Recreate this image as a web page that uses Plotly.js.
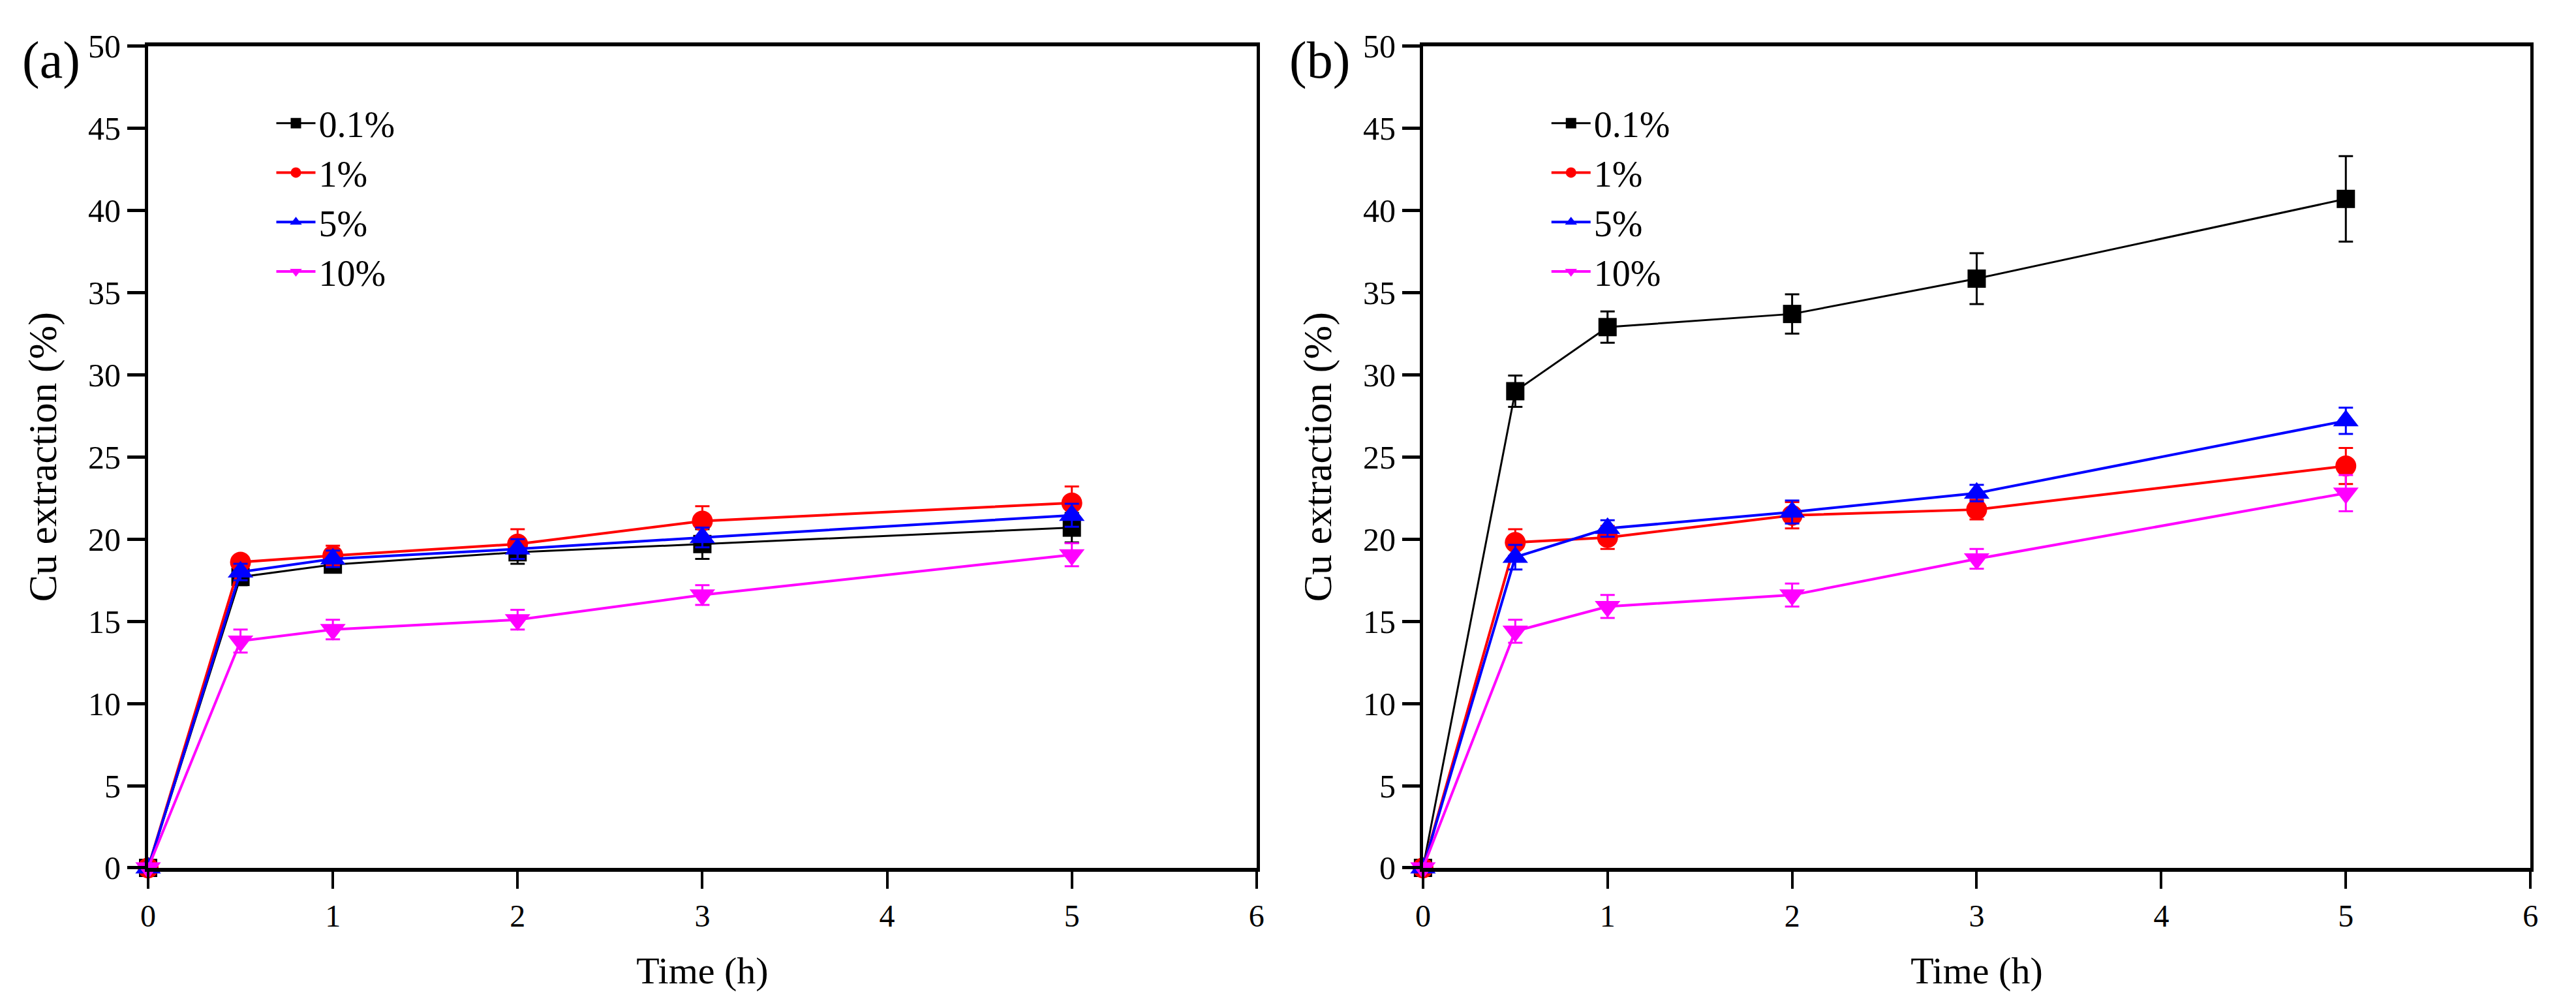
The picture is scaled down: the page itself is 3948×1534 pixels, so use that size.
<!DOCTYPE html>
<html>
<head>
<meta charset="utf-8">
<script src="https://cdn.plot.ly/plotly-3.0.1.min.js"></script>
<style>
  body { margin: 0; background: #fff; }
  #chart { width: 3948px; height: 1534px; }
</style>
</head>
<body>
<div id="chart"></div>
<script>
// time points (h)
var time = [0, 0.5, 1, 2, 3, 5];
var names = ["0.1%", "1%", "5%", "10%"];

// panel (a)
var a01 = [0, 17.7, 18.45, 19.2, 19.7, 20.7];
var a01Err = [0, 0.5, 0.4, 0.7, 0.9, 0.9];
var a1 = [0, 18.6, 19.0, 19.7, 21.1, 22.2];
var a1Err = [0, 0.3, 0.6, 0.9, 0.9, 1.0];
var a5 = [0, 18.0, 18.8, 19.4, 20.1, 21.45];
var a5Err = [0, 0.5, 0.5, 0.6, 0.6, 0.7];
var a10 = [0, 13.8, 14.5, 15.1, 16.6, 19.05];
var a10Err = [0, 0.7, 0.6, 0.6, 0.6, 0.7];

// panel (b)
var b01 = [0, 29.0, 32.9, 33.7, 35.85, 40.7];
var b01Err = [0, 0.95, 0.95, 1.2, 1.55, 2.6];
var b1 = [0, 19.8, 20.1, 21.45, 21.8, 24.45];
var b1Err = [0, 0.8, 0.7, 0.8, 0.6, 1.1];
var b5 = [0, 18.9, 20.65, 21.65, 22.8, 27.2];
var b5Err = [0, 0.75, 0.5, 0.7, 0.5, 0.8];
var b10 = [0, 14.4, 15.9, 16.6, 18.8, 22.8];
var b10Err = [0, 0.7, 0.7, 0.7, 0.6, 1.1];

var colors = ["#000000", "#ff0000", "#0000ff", "#ff00ff"];
var symbols = ["square", "circle", "triangle-up", "triangle-down"];
var sizes = [28, 32, 34, 34];
var widths = [3, 4, 4, 4];

function makeTrace(i, ys, errs, xa, ya, leg) {
  return {
    x: time, y: ys,
    name: names[i],
    type: 'scatter',
    mode: 'lines+markers',
    xaxis: xa, yaxis: ya,
    legend: leg,
    cliponaxis: false,
    line: { color: colors[i], width: widths[i] },
    marker: { color: colors[i], symbol: symbols[i], size: sizes[i] },
    error_y: { type: 'data', array: errs, visible: true, color: colors[i], thickness: 3, width: 11 }
  };
}

var data = [
  makeTrace(0, a01, a01Err, 'x', 'y', 'legend'),
  makeTrace(1, a1, a1Err, 'x', 'y', 'legend'),
  makeTrace(2, a5, a5Err, 'x', 'y', 'legend'),
  makeTrace(3, a10, a10Err, 'x', 'y', 'legend'),
  makeTrace(0, b01, b01Err, 'x2', 'y2', 'legend2'),
  makeTrace(1, b1, b1Err, 'x2', 'y2', 'legend2'),
  makeTrace(2, b5, b5Err, 'x2', 'y2', 'legend2'),
  makeTrace(3, b10, b10Err, 'x2', 'y2', 'legend2')
];

var font = "'Liberation Serif', 'Times New Roman', serif";

function xAxis(dom, anchor) {
  return {
    domain: dom, anchor: anchor,
    range: [0, 6], dtick: 1,
    showgrid: false, zeroline: false,
    showline: true, mirror: true, linecolor: '#000', linewidth: 6,
    ticks: 'outside', ticklen: 26, tickwidth: 4, tickcolor: '#000',
    tickfont: { family: font, size: 48, color: '#000' },
    title: { text: 'Time (h)', font: { family: font, size: 58, color: '#000' }, standoff: 40 }
  };
}

function yAxis(anchor) {
  return {
    domain: [0.133, 0.954], anchor: anchor,
    range: [0, 50], dtick: 5,
    showgrid: false, zeroline: false,
    showline: true, mirror: true, linecolor: '#000', linewidth: 5,
    ticks: 'outside', ticklen: 27, tickwidth: 5, tickcolor: '#000',
    tickfont: { family: font, size: 50, color: '#000' },
    title: { text: 'Cu extraction (%)', font: { family: font, size: 62, color: '#000' }, standoff: 30 }
  };
}

function legendBox(x) {
  return {
    x: x, y: 0.905, xanchor: 'left', yanchor: 'top',
    bgcolor: 'rgba(0,0,0,0)',
    font: { family: font, size: 56, color: '#000' },
    itemwidth: 60
  };
}

var layout = {
  width: 3948, height: 1534,
  font: { family: font, color: '#000' },
  margin: { l: 0, r: 0, t: 0, b: 0, pad: 0 },
  paper_bgcolor: '#fff', plot_bgcolor: '#fff',
  showlegend: true,
  xaxis: xAxis([0.0575, 0.4878], 'y'),
  yaxis: yAxis('x'),
  xaxis2: xAxis([0.5524, 0.9823], 'y2'),
  yaxis2: yAxis('x2'),
  legend: legendBox(0.106),
  legend2: legendBox(0.601),
  annotations: [
    { text: '(a)', x: 0.008, y: 0.94, xref: 'paper', yref: 'paper', xanchor: 'left', yanchor: 'middle',
      showarrow: false, font: { family: font, size: 80, color: '#000' } },
    { text: '(b)', x: 0.5, y: 0.94, xref: 'paper', yref: 'paper', xanchor: 'left', yanchor: 'middle',
      showarrow: false, font: { family: font, size: 80, color: '#000' } }
  ]
};

var config = { displayModeBar: false, responsive: false };

Plotly.newPlot('chart', data, layout, config);
</script>
</body>
</html>
